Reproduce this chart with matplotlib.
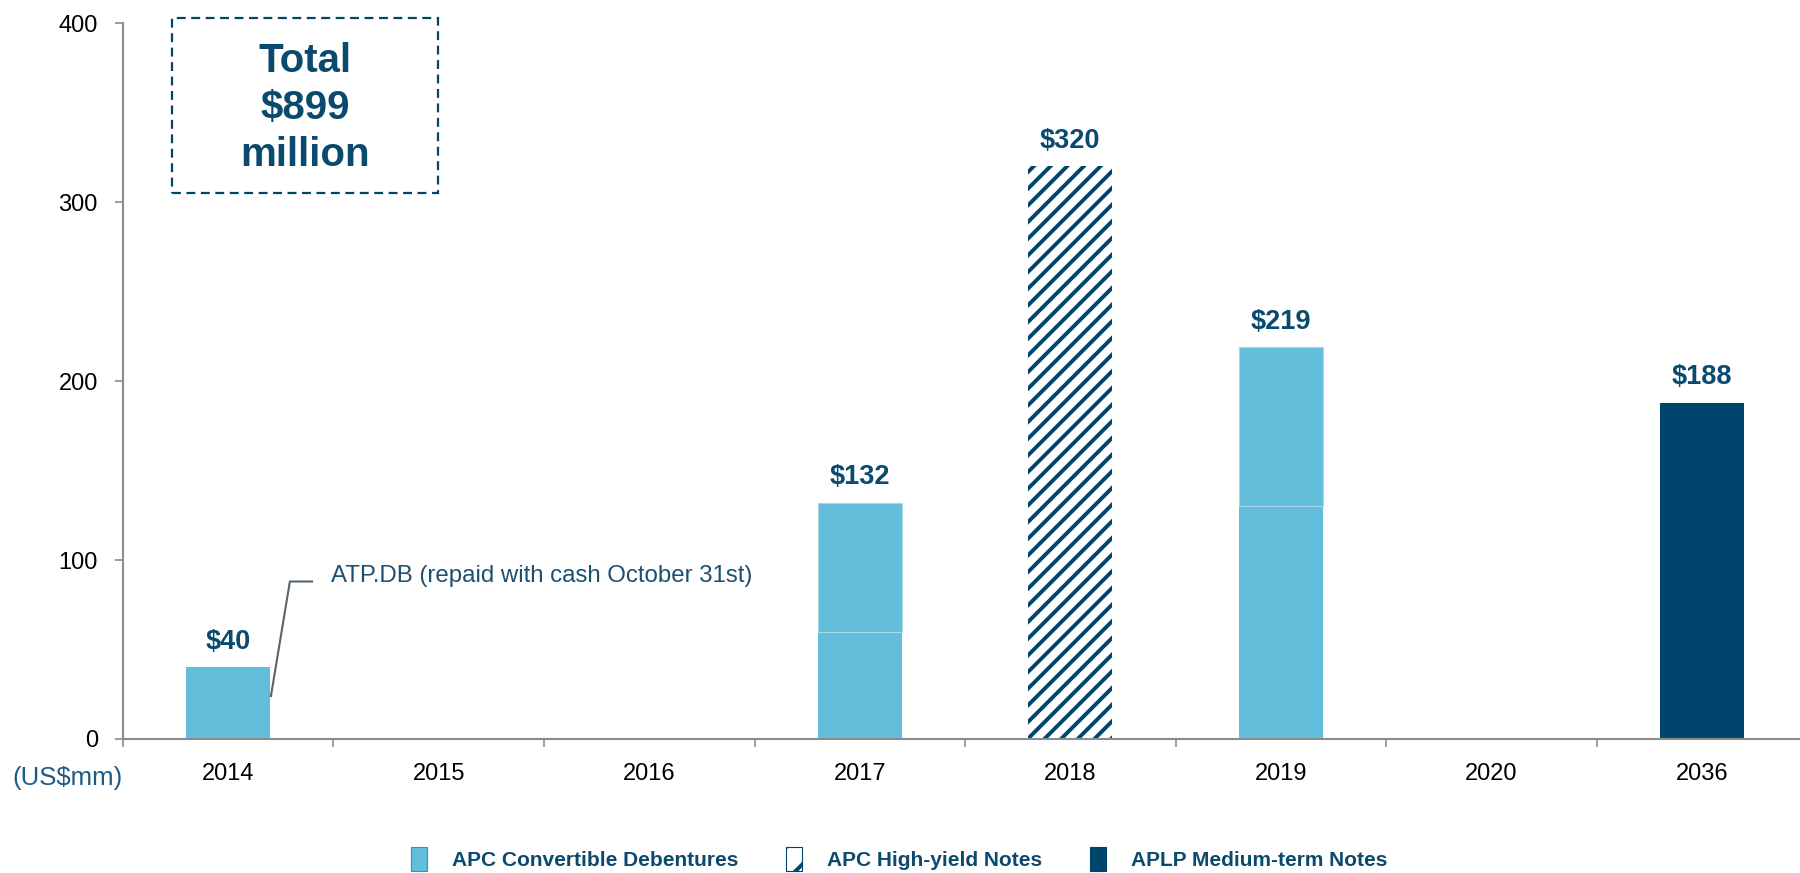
import numpy as np
import matplotlib.pyplot as plt
from matplotlib.patches import Patch, Rectangle

years = ['2014', '2015', '2016', '2017', '2018', '2019', '2020', '2036']
conv_low = [40, 0, 0, 60, 0, 130, 0, 0]
conv_high = [0, 0, 0, 72, 0, 89, 0, 0]
high_yield = [0, 0, 0, 0, 320, 0, 0, 0]
medium_term = [0, 0, 0, 0, 0, 0, 0, 188]
legend_labels = ['APC Convertible Debentures', 'APC High-yield Notes', 'APLP Medium-term Notes']

light = '#62BEDB'
navy = '#00466C'
text_navy = '#0B4A6F'
grey = '#8C8C8C'

plt.rcParams['font.family'] = ['Liberation Sans', 'DejaVu Sans']
plt.rcParams['hatch.linewidth'] = 2.8

fig = plt.figure(figsize=(18, 8.73), dpi=100)
ax = fig.add_axes([0.0683, 0.1535, 0.9357, 0.820])

x = np.arange(len(years))
w = 0.4


def bars(vals, bottom=None, **kw):
    vals = np.array(vals, dtype=float)
    bottom = np.zeros_like(vals) if bottom is None else np.array(bottom, dtype=float)
    m = vals > 0
    ax.bar(x[m], vals[m], width=w, bottom=bottom[m], **kw)


bars(conv_low, color=light, linewidth=0)
bars(conv_high, bottom=conv_low, color=light, edgecolor='#A6D8EA', linewidth=0.8)
bars(high_yield, color='white', edgecolor=navy, hatch='//', linewidth=0)
bars(medium_term, color=navy, linewidth=0)

totals = np.array(conv_low) + np.array(conv_high) + np.array(high_yield) + np.array(medium_term)
for i, t in enumerate(totals):
    if t > 0:
        ax.annotate('${}'.format(t), (i, t), xytext=(0, 9), textcoords='offset points',
                    ha='center', va='bottom', fontsize=19.5, fontweight='bold', color=text_navy)

# annotation for 2014
ax.plot([0.203, 0.293, 0.398], [24, 88, 88], color='#56646E', lw=1.5)
ax.text(0.49, 91, 'ATP.DB (repaid with cash October 31st)', fontsize=17.3,
        color='#1C4F70', va='center', ha='left')

ax.set_xlim(-0.5, 7.5)
ax.set_ylim(0, 400)
ax.set_yticks([0, 100, 200, 300, 400])
ax.set_xticks(x)
ax.set_xticklabels(years)
ax.set_xticks(np.arange(-0.5, 8, 1), minor=True)

for s in ['top', 'right']:
    ax.spines[s].set_visible(False)
for s in ['left', 'bottom']:
    ax.spines[s].set_color(grey)
    ax.spines[s].set_linewidth(1.5)

ax.tick_params(axis='y', length=6, width=1.2, color=grey, pad=12, labelsize=17)
ax.tick_params(axis='x', which='major', length=0, pad=17, labelsize=17)
ax.tick_params(axis='x', which='minor', length=6, width=1.2, color=grey)

fig.text(0.007, 1 - 778 / 873, '(US$mm)', fontsize=18.5, color='#1F5A86', va='center', ha='left')

# total box
fig.patches.append(Rectangle((0.0956, 0.779), 0.1477, 0.200, transform=fig.transFigure,
                             fill=False, edgecolor=navy, lw=1.6, linestyle=(0, (4, 2.5))))
fig.text(0.1694, 0.876, 'Total\n$899\nmillion', fontsize=29, fontweight='bold',
         color=text_navy, ha='center', va='center', linespacing=1.3)

handles = [Patch(facecolor=light, edgecolor='#3B8FB5', lw=0.8),
           Patch(facecolor='white', edgecolor=navy, hatch='/', lw=0.8),
           Patch(facecolor=navy, edgecolor=navy, lw=0.8)]
fig.legend(handles, legend_labels, loc='center', bbox_to_anchor=(0.4995, 0.016), ncol=3,
           frameon=False, prop={'weight': 'bold', 'size': 15},
           handlelength=0.75, handleheight=1.35, handletextpad=1.2, columnspacing=2.3,
           labelcolor=text_navy)

fig.savefig('out.png', dpi=100)
